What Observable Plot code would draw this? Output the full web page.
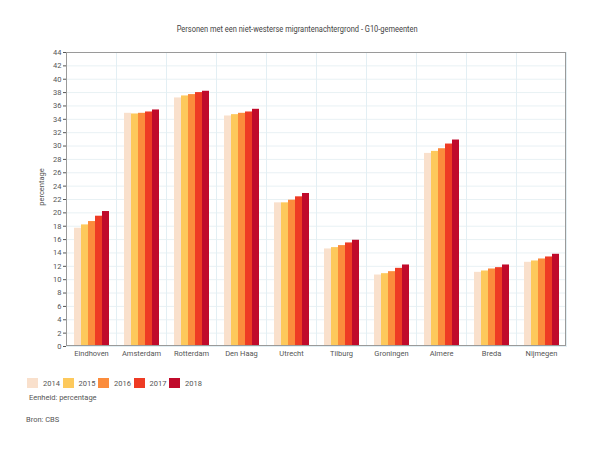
<!DOCTYPE html>
<html>
<head>
<meta charset="utf-8">
<script src="https://cdn.jsdelivr.net/npm/d3@7"></script>
<script src="https://cdn.jsdelivr.net/npm/@observablehq/plot@0.6"></script>
<style>
  body { margin: 0; background: #fff; font-family: Roboto, "Liberation Sans", sans-serif; color: #444; }
  #wrap { position: relative; width: 600px; height: 450px; }
  #title { position: absolute; top: 24px; left: 0; width: 594px; text-align: center; font-size: 9px; color: #444; white-space: nowrap; }
  #title span { display: inline-block; transform: scaleX(0.83); transform-origin: 50% 50%; }
  #chart { position: absolute; top: 40px; left: 0; }
  #legend { position: absolute; top: 378px; left: 27px; display: flex; font-size: 7.5px; color: #555; }
  .item { display: flex; align-items: center; width: 35.5px; }
  .sw { width: 11px; height: 10px; margin-right: 5px; }
  #unit { position: absolute; top: 393px; left: 29px; font-size: 7.5px; color: #555; }
  #source { position: absolute; top: 415px; left: 26px; font-size: 7.5px; color: #555; }
</style>
</head>
<body>
<div id="wrap">
  <div id="title"><span>Personen met een niet-westerse migrantenachtergrond - G10-gemeenten</span></div>
  <div id="chart"></div>
  <div id="legend"></div>
  <div id="unit">Eenheid: percentage</div>
  <div id="source">Bron: CBS</div>
</div>
<script>
const cities = ["Eindhoven", "Amsterdam", "Rotterdam", "Den Haag", "Utrecht", "Tilburg", "Groningen", "Almere", "Breda", "Nijmegen"];
const years = ["2014", "2015", "2016", "2017", "2018"];
const colors = ["#f9e0cc", "#fdc95c", "#fb8c3c", "#ee3b24", "#c00a2b"];
const v2014 = [17.7, 34.9, 37.2, 34.5, 21.5, 14.6, 10.7, 28.9, 11.1, 12.6];
const v2015 = [18.2, 34.8, 37.5, 34.7, 21.5, 14.8, 10.9, 29.2, 11.3, 12.8];
const v2016 = [18.7, 34.9, 37.7, 34.9, 21.9, 15.1, 11.2, 29.6, 11.6, 13.1];
const v2017 = [19.5, 35.1, 38.0, 35.1, 22.4, 15.5, 11.7, 30.3, 11.8, 13.4];
const v2018 = [20.2, 35.4, 38.2, 35.5, 22.9, 15.9, 12.2, 30.9, 12.2, 13.8];
const yTicks = d3.range(0, 45, 2);

const series = [v2014, v2015, v2016, v2017, v2018];
const data = [];
cities.forEach((c, i) => years.forEach((y, j) => data.push({city: c, year: y, value: series[j][i]})));

const plot = Plot.plot({
  width: 600,
  height: 330,
  marginTop: 12,
  marginBottom: 24,
  marginLeft: 66,
  marginRight: 34,
  style: {fontFamily: 'Roboto, "Liberation Sans", sans-serif', fontSize: "7.5px", color: "#555", background: "#fff"},
  facet: {data: data, x: "city"},
  fx: {domain: cities, padding: 0, label: null, tickSize: 0, tickPadding: 4},
  x: {domain: years, paddingInner: 0, paddingOuter: 0.7, axis: null},
  y: {domain: [0, 44], ticks: yTicks, tickSize: 3, tickPadding: 2, label: null},
  color: {domain: years, range: colors},
  marks: [
    Plot.ruleY(yTicks, {stroke: "#e8f1f4", strokeWidth: 1}),
    Plot.frame({stroke: "#e3eff4"}),
    Plot.barY(data, {x: "year", y: "value", fill: "year"})
  ]
});
document.getElementById("chart").appendChild(plot);

// Outer frame from the library's scales
const fx = plot.scale("fx"), ys = plot.scale("y");
const x0 = fx.apply(cities[0]);
const x1 = fx.apply(cities[cities.length - 1]) + fx.bandwidth;
const y0 = ys.apply(44), y1 = ys.apply(0);
d3.select(plot).append("rect")
  .attr("x", x0 + 0.5).attr("y", y0 + 0.5)
  .attr("width", x1 - x0 - 1).attr("height", y1 - y0 - 1)
  .attr("fill", "none").attr("stroke", "#9a9a9a");

// y-axis title
d3.select(plot).append("text")
  .attr("transform", `translate(44,${(y0 + y1) / 2 - 12}) rotate(-90)`)
  .attr("text-anchor", "middle")
  .attr("fill", "#555")
  .style("font-size", "7.5px")
  .text("percentage");

const legend = document.getElementById("legend");
years.forEach((y, j) => {
  const it = document.createElement("div");
  it.className = "item";
  it.innerHTML = `<div class="sw" style="background:${colors[j]}"></div><span>${y}</span>`;
  legend.appendChild(it);
});
</script>
</body>
</html>
